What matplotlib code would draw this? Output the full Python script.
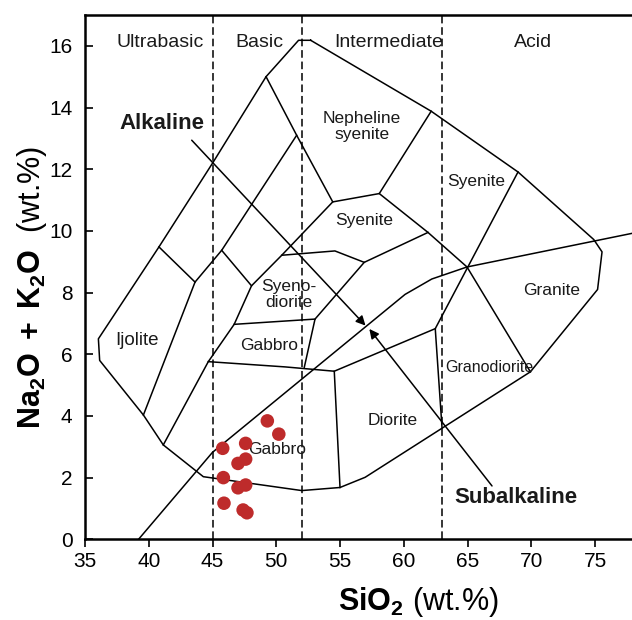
import matplotlib
matplotlib.use("Agg")
import matplotlib.pyplot as plt

plt.rcParams["font.family"] = ["Liberation Sans", "DejaVu Sans"]
plt.rcParams["mathtext.fontset"] = "custom"
plt.rcParams["mathtext.rm"] = "Liberation Sans"
plt.rcParams["mathtext.bf"] = "Liberation Sans:bold"
plt.rcParams["mathtext.it"] = "Liberation Sans:italic"

# samples (SiO2 vs Na2O+K2O, wt.%)
sio2 = [49.3, 50.2, 47.6, 45.8, 47.6, 47.0, 45.85, 47.6, 47.0, 45.9, 47.4, 47.7]
alkali = [3.84, 3.41, 3.11, 2.95, 2.60, 2.46, 2.00, 1.76, 1.67, 1.17, 0.95, 0.86]

# field boundaries of the plutonic TAS diagram
outer = [(52.7, 16.18), (51.75, 16.18), (49.2, 15.0), (45.07, 12.24), (40.8, 9.48),
         (36.05, 6.5), (36.15, 5.8), (39.58, 4.03), (41.14, 3.06), (44.28, 2.03),
         (52.0, 1.58), (55.0, 1.68), (56.97, 2.01), (69.93, 5.43), (75.2, 8.1),
         (75.55, 9.32), (74.9, 9.72), (68.96, 11.91), (62.15, 13.88), (52.7, 16.18)]
neph_syenite = [(49.2, 15.0), (51.6, 13.1), (54.43, 10.94), (58.08, 11.21), (62.15, 13.88)]
syenite_right = [(58.08, 11.21), (61.9, 9.95), (64.96, 8.83), (69.93, 5.43)]
syenite_bottom = [(50.43, 9.21), (54.6, 9.35), (56.9, 8.98), (61.9, 9.95)]
syenodiorite_right = [(56.9, 8.98), (53.04, 7.14), (52.2, 5.58)]
syenite_left = [(54.43, 10.94), (50.43, 9.21), (48.06, 8.22), (46.7, 6.97),
                (44.67, 5.76), (41.14, 3.06)]
gabbro_top = [(46.7, 6.97), (53.04, 7.14)]
alk_inner = [(51.6, 13.1), (45.72, 9.37), (43.63, 8.34), (39.58, 4.03)]
div_a = [(40.8, 9.48), (43.63, 8.34)]
div_b = [(45.72, 9.37), (48.06, 8.22)]
gabbro_bottom = [(44.67, 5.76), (50.69, 5.59), (54.55, 5.45), (55.0, 1.68)]
diorite_top = [(54.55, 5.45), (62.47, 6.83)]
granodiorite_left = [(68.96, 11.91), (62.47, 6.83), (63.0, 3.62)]
alk_subalk = [(39.2, 0.0), (45.0, 2.82), (60.1, 7.94), (62.2, 8.44), (64.96, 8.83),
              (77.9, 9.92), (80.0, 10.1)]
boundaries = [outer, neph_syenite, syenite_right, syenite_bottom, syenodiorite_right,
              syenite_left, gabbro_top, alk_inner, div_a, div_b, gabbro_bottom,
              diorite_top, granodiorite_left, alk_subalk]

silica_limits = [45, 52, 63]
classes = ["Ultrabasic", "Basic", "Intermediate", "Acid"]
class_x = [40.9, 48.7, 58.8, 70.1]

field_names = ["Ijolite", "Gabbro", "Syeno-\ndiorite", "Syenite", "Nepheline\nsyenite",
               "Syenite", "Granite", "Granodiorite", "Diorite", "Gabbro"]
field_x = [39.1, 49.45, 51.0, 56.9, 56.7, 65.7, 71.6, 66.7, 59.1, 50.1]
field_y = [6.45, 6.3, 7.93, 10.35, 13.38, 11.6, 8.08, 5.56, 3.86, 2.9]
field_size = [13.5, 12.5, 12.5, 12.5, 12.5, 12.5, 12.5, 11.5, 12.5, 12.5]

fig = plt.figure(figsize=(6.32, 6.2), dpi=100)
ax = fig.add_axes([85 / 632, 80.7 / 620, 547 / 632, 524.3 / 620])

for line in boundaries:
    xs, ys = zip(*line)
    ax.plot(xs, ys, color="k", lw=1.1)

for xv in silica_limits:
    ax.plot([xv, xv], [0, 17], color="k", lw=1.1, dashes=(5, 2.5))

for name, xv in zip(classes, class_x):
    ax.text(xv, 16.1, name, ha="center", va="center", fontsize=14, color="#1a1a1a")

for name, xv, yv, fs in zip(field_names, field_x, field_y, field_size):
    ax.text(xv, yv, name, ha="center", va="center", fontsize=fs, color="#1a1a1a",
            linespacing=1.05)

# alkaline / subalkaline arrows
ax.annotate("", xy=(57.0, 6.93), xytext=(43.37, 12.94),
            arrowprops=dict(arrowstyle="-|>", color="k", lw=1.1, mutation_scale=14,
                            shrinkA=0, shrinkB=0))
ax.annotate("", xy=(57.3, 6.82), xytext=(66.92, 1.73),
            arrowprops=dict(arrowstyle="-|>", color="k", lw=1.1, mutation_scale=14,
                            shrinkA=0, shrinkB=0))
ax.text(41.0, 13.48, "Alkaline", ha="center", va="center", fontsize=16,
        fontweight="bold", color="#1a1a1a")
ax.text(68.8, 1.36, "Subalkaline", ha="center", va="center", fontsize=16,
        fontweight="bold", color="#1a1a1a")

ax.scatter(sio2, alkali, s=95, color="#BE2B2B", edgecolors="none", zorder=5)

ax.set_xlim(35, 77.9)
ax.set_ylim(0, 17)
ax.set_xticks(range(35, 80, 5))
ax.set_yticks(range(0, 17, 2))
ax.tick_params(axis="x", direction="out", length=6, width=1.2, labelsize=15, pad=3)
ax.tick_params(axis="y", direction="in", length=6, width=1.2, labelsize=15, pad=9)
for side in ["left", "bottom", "top"]:
    ax.spines[side].set_linewidth(1.8)
ax.spines["right"].set_visible(False)

fig.text(418 / 632, 1 - 602 / 620, r"$\mathbf{SiO_2}$ (wt.%)", ha="center", va="center",
         fontsize=22)
fig.text(32 / 632, 1 - 288 / 620, r"$\mathbf{Na_2O\ +\ K_2O}$  (wt.%)", ha="center",
         va="center", rotation=90, fontsize=22)

fig.savefig("out.png", dpi=100)
